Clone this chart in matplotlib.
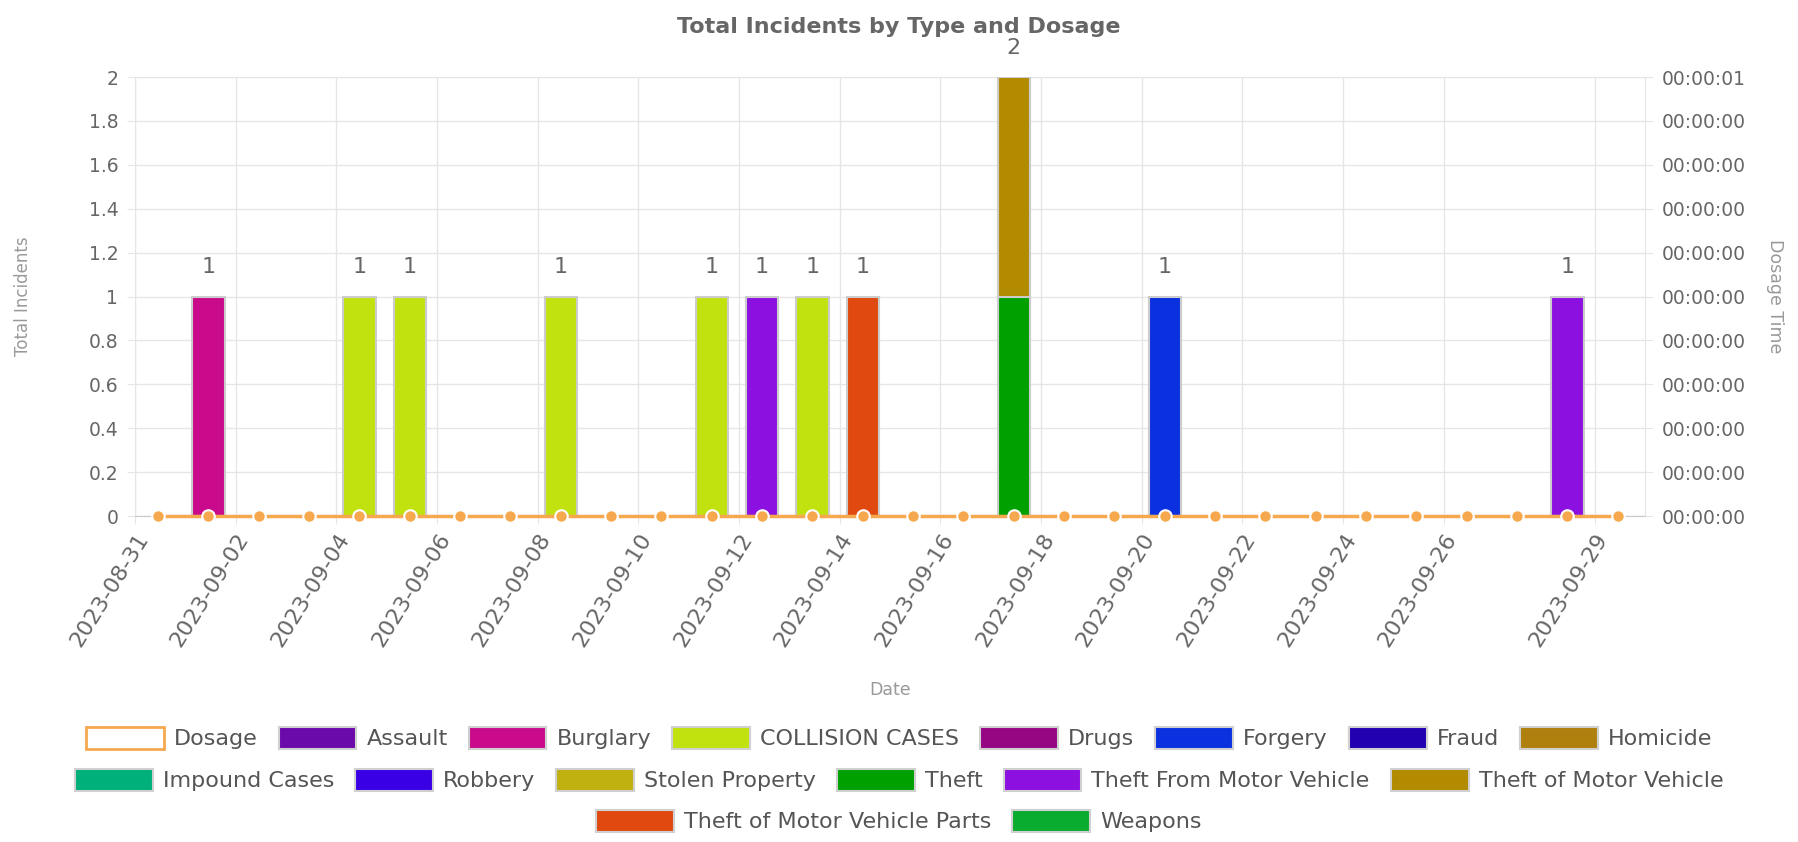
import matplotlib
matplotlib.use('Agg')
import matplotlib.pyplot as plt
import matplotlib.dates as mdates
import matplotlib.ticker as mticker
import matplotlib.patches as mpatches
import pandas as pd

# one row per day, 2023-08-31 .. 2023-09-29
days = pd.date_range('2023-08-31', '2023-09-29', freq='D')
dosage_seconds = [0, 0, 0, 0, 0, 0, 0, 0, 0, 0,
                  0, 0, 0, 0, 0, 0, 0, 0, 0, 0,
                  0, 0, 0, 0, 0, 0, 0, 0, 0, 0]

incident_dates = ['2023-09-01', '2023-09-04', '2023-09-05', '2023-09-08', '2023-09-11', '2023-09-12',
                  '2023-09-13', '2023-09-14', '2023-09-17', '2023-09-17', '2023-09-20', '2023-09-28']
incident_types = ['Burglary', 'COLLISION CASES', 'COLLISION CASES', 'COLLISION CASES', 'COLLISION CASES',
                  'Theft From Motor Vehicle', 'COLLISION CASES', 'Theft of Motor Vehicle Parts', 'Theft',
                  'Theft of Motor Vehicle', 'Forgery', 'Theft From Motor Vehicle']
incident_counts = [1, 1, 1, 1, 1, 1, 1, 1, 1, 1, 1, 1]

crime_types = ['Assault', 'Burglary', 'COLLISION CASES', 'Drugs', 'Forgery', 'Fraud', 'Homicide',
               'Impound Cases', 'Robbery', 'Stolen Property', 'Theft', 'Theft From Motor Vehicle',
               'Theft of Motor Vehicle', 'Theft of Motor Vehicle Parts', 'Weapons']
crime_colors = ['#6a0aaa', '#c90a8a', '#c2e20f', '#960582', '#0a30e0', '#2200b2', '#b0800f',
                '#00b07a', '#3a00e5', '#c0b010', '#00a000', '#8c10e0',
                '#b38b00', '#e04a10', '#0aac30']

xtick_dates = ['2023-08-31', '2023-09-02', '2023-09-04', '2023-09-06', '2023-09-08', '2023-09-10',
               '2023-09-12', '2023-09-14', '2023-09-16', '2023-09-18', '2023-09-20', '2023-09-22',
               '2023-09-24', '2023-09-26', '2023-09-29']

TEXT = '#666666'
GRID = '#e6e6e6'
ORANGE = '#f6a84e'

df = pd.DataFrame({'date': pd.to_datetime(incident_dates), 'type': incident_types, 'count': incident_counts})
table = df.pivot_table(index='date', columns='type', values='count', aggfunc='sum')
table = table.reindex(index=days, columns=crime_types).fillna(0)

fig = plt.figure(figsize=(17.98, 8.42), dpi=100)
ax = fig.add_axes([135 / 1798, 1 - 516 / 842, 1510 / 1798, 439 / 842])

xpos = days + pd.Timedelta(hours=11)
bottom = pd.Series(0.0, index=days)
for t, c in zip(crime_types, crime_colors):
    vals = table[t]
    nz = vals > 0
    if nz.any():
        ax.bar(xpos[nz.values], vals[nz], width=0.64, bottom=bottom[nz], color=c,
               edgecolor='#cccccc', linewidth=1.5, zorder=3)
    bottom += vals

totals = table.sum(axis=1)
for x, tot in zip(xpos, totals):
    if tot > 0:
        ax.annotate('%d' % tot, (x, tot), xytext=(0, 21), textcoords='offset points',
                    ha='center', va='center', fontsize=16, color=TEXT, annotation_clip=False)

ax.set_ylim(0, 2)
ax.set_yticks([i / 10 for i in range(0, 21, 2)])
ax.yaxis.set_major_formatter(mticker.FuncFormatter(lambda v, p: ('%.1f' % v).rstrip('0').rstrip('.')))
ax.set_xlim(pd.Timestamp('2023-08-31'), pd.Timestamp('2023-09-30'))
ax.set_xticks(pd.to_datetime(xtick_dates))
ax.xaxis.set_major_formatter(mdates.DateFormatter('%Y-%m-%d'))
plt.setp(ax.get_xticklabels(), rotation=58, ha='right', rotation_mode='anchor')
ax.tick_params(axis='x', labelsize=16, colors=TEXT, length=6, color=GRID, pad=4)
ax.tick_params(axis='y', labelsize=13.5, colors=TEXT, length=6, color=GRID, pad=6)
ax.grid(True, color=GRID, linewidth=1, zorder=0)
ax.set_axisbelow(True)
for s in ax.spines.values():
    s.set_color(GRID)
ax.spines['bottom'].set_color('#c8c8c8')

ax.set_xlabel('Date', fontsize=12.5, color='#999999')
ax.xaxis.set_label_coords(0.5, -0.376)
ax.set_ylabel('Total Incidents', fontsize=12, color='#999999')
ax.yaxis.set_label_coords(-0.068, 0.5)

# dosage on the right axis, in seconds
ax2 = ax.twinx()
ax2.plot(xpos, dosage_seconds, color=ORANGE, linewidth=2.5, marker='o', markersize=9,
         markerfacecolor=ORANGE, markeredgecolor='white', markeredgewidth=1.5, clip_on=False, zorder=5)
ax2.set_ylim(0, 1)
ax2.set_yticks([i / 10 for i in range(11)])


def hms(v, p):
    s = int(round(v, 6))
    return '%02d:%02d:%02d' % (s // 3600, s // 60 % 60, s % 60)


ax2.yaxis.set_major_formatter(mticker.FuncFormatter(hms))
ax2.tick_params(axis='y', labelsize=13.5, colors=TEXT, length=6, color=GRID, pad=6)
for s in ax2.spines.values():
    s.set_visible(False)
ax2.set_ylabel('Dosage Time', fontsize=12.5, color='#999999', rotation=-90, va='center')
ax2.yaxis.set_label_coords(1.086, 0.5)

fig.suptitle('Total Incidents by Type and Dosage', fontsize=16, fontweight='bold', color=TEXT,
             y=1 - 27 / 842, va='center')

handles = [mpatches.Patch(facecolor='white', edgecolor=ORANGE, linewidth=2, label='Dosage')]
for t, c in zip(crime_types, crime_colors):
    handles.append(mpatches.Patch(facecolor=c, edgecolor='#d0d0d0', linewidth=1.5, label=t))

rows = [handles[0:8], handles[8:14], handles[14:16]]
row_y = [738, 780, 821]
for row, yy in zip(rows, row_y):
    leg = fig.legend(handles=row, loc='center', bbox_to_anchor=(0.5, 1 - yy / 842), ncol=len(row),
                     frameon=False, fontsize=16, handlelength=3.5, handleheight=1.2,
                     handletextpad=0.45, columnspacing=0.95, borderpad=0, borderaxespad=0)
    for txt in leg.get_texts():
        txt.set_color('#555555')

fig.savefig('out.png', dpi=100)
